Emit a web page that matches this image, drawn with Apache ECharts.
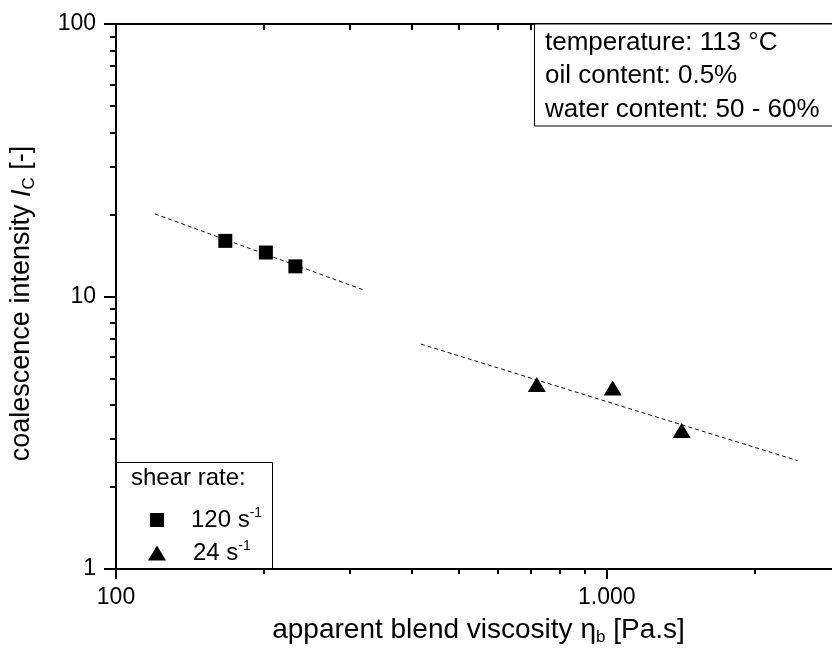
<!DOCTYPE html>
<html>
<head>
<meta charset="utf-8">
<script src="https://cdn.jsdelivr.net/npm/echarts@6/dist/echarts.min.js"></script>
<style>
html,body{margin:0;padding:0;background:#fff;}
#c{width:832px;height:654px;}
</style>
</head>
<body>
<div id="c"></div>
<script>
// ---- data ----
const xTickValues = [100, 1000];
const xTickLabels = ['100', '1.000'];
const xMinorTicks = [200, 300, 400, 500, 600, 700, 800, 900, 2000, 3000];
const yTickValues = [1, 10, 100];
const yTickLabels = ['1', '10', '100'];
const yMinorTicks = [2, 3, 4, 5, 6, 7, 8, 9, 20, 30, 40, 50, 60, 70, 80, 90];

const rate120Name = '120 s-1';
const rate120X = [167, 202, 232];
const rate120Y = [16.0, 14.5, 12.9];

const rate24Name = '24 s-1';
const rate24X = [720, 1028, 1421];
const rate24Y = [4.75, 4.62, 3.22];

const fit120X = [120, 318];
const fit120Y = [20.1, 10.6];
const fit24X = [418, 2445];
const fit24Y = [6.69, 2.50];

const infoLines = ['temperature: 113 °C', 'oil content: 0.5%', 'water content: 50 - 60%'];
const legendTitle = 'shear rate:';

// ---- helpers ----
const zip = (xs, ys) => xs.map((x, i) => [x, ys[i]]);
const pickLabel = (vals, labels) => v => {
  for (let i = 0; i < vals.length; i++) {
    if (Math.abs(Math.log10(v) - Math.log10(vals[i])) < 1e-6) return labels[i];
  }
  return '';
};
const FONT = 'Liberation Sans, Arial, sans-serif';
const axisLineStyle = { color: '#000', width: 2 };

function xAxisDef(position, ticks, len, inside, withLabels, showLine) {
  return {
    type: 'log', logBase: 10, min: 100, max: 3000, gridIndex: 0,
    position: position,
    axisLine: { show: showLine, onZero: false, lineStyle: axisLineStyle },
    axisTick: { show: true, inside: inside, length: len, customValues: ticks, lineStyle: { color: '#000', width: 2 } },
    axisLabel: withLabels ? {
      show: true, customValues: xTickValues, formatter: pickLabel(xTickValues, xTickLabels),
      color: '#000', fontSize: 23, fontFamily: FONT, margin: 17
    } : { show: false },
    splitLine: { show: false },
    minorTick: { show: false }
  };
}
function yAxisDef(position, ticks, len, inside, withLabels, showLine) {
  return {
    type: 'log', logBase: 10, min: 1, max: 100, gridIndex: 0,
    position: position,
    axisLine: { show: showLine, onZero: false, lineStyle: axisLineStyle },
    axisTick: { show: true, inside: inside, length: len, customValues: ticks, lineStyle: { color: '#000', width: 2 } },
    axisLabel: withLabels ? {
      show: true, customValues: yTickValues, formatter: pickLabel(yTickValues, yTickLabels),
      color: '#000', fontSize: 23, fontFamily: FONT, margin: 20
    } : { show: false },
    splitLine: { show: false },
    minorTick: { show: false }
  };
}

const xMain = xAxisDef('bottom', xTickValues, 10, false, true, true);
xMain.name = '{t|apparent blend viscosity η}{s|b}{t| [Pa.s]}';
xMain.nameLocation = 'middle';
xMain.nameGap = 45;
xMain.nameTextStyle = {
  color: '#000', fontFamily: FONT,
  rich: {
    t: { fontSize: 28, lineHeight: 32, color: '#000', fontFamily: FONT },
    s: { fontSize: 17, lineHeight: 4, verticalAlign: 'bottom', color: '#000', fontFamily: FONT }
  }
};

const yMain = yAxisDef('left', yTickValues, 12, false, true, true);
yMain.name = '{t|coalescence intensity }{i|I}{s|C}{t| [-]}';
yMain.nameLocation = 'middle';
yMain.nameGap = 78;
yMain.nameTextStyle = {
  color: '#000', fontFamily: FONT, padding: [0, 14, 0, 0],
  rich: {
    t: { fontSize: 27, lineHeight: 32, color: '#000', fontFamily: FONT },
    i: { fontSize: 27, lineHeight: 32, fontStyle: 'italic', color: '#000', fontFamily: FONT },
    s: { fontSize: 17, lineHeight: 6, verticalAlign: 'bottom', color: '#000', fontFamily: FONT }
  }
};

const legendRich = {
  g: { width: 22 },
  t: { fontSize: 24, lineHeight: 28, color: '#000', fontFamily: FONT },
  p: { fontSize: 14, lineHeight: 14, verticalAlign: 'top', color: '#000', fontFamily: FONT }
};
const legendFormatter = name => '{g|}{t|' + name.replace(' s-1', ' s') + '}{p|-1}';

const option = {
  backgroundColor: '#fff',
  animation: false,
  grid: { left: 116, top: 24, width: 725, height: 545, outerBoundsMode: 'none', containLabel: false },
  xAxis: [
    xMain,
    xAxisDef('bottom', xMinorTicks, 5, false, false, false),
    xAxisDef('top', xTickValues, 10, true, false, true),
    xAxisDef('top', xMinorTicks, 6, true, false, false)
  ],
  yAxis: [
    yMain,
    yAxisDef('left', yMinorTicks, 6, false, false, false)
  ],
  legend: [
    {
      data: [rate120Name], orient: 'vertical', left: 150, top: 506, padding: 0,
      itemWidth: 14, itemHeight: 14, symbolKeepAspect: false,
      formatter: legendFormatter, textStyle: { rich: legendRich, color: '#000' },
      selectedMode: false
    },
    {
      data: [rate24Name], orient: 'vertical', left: 148, top: 539, padding: 0,
      itemWidth: 18, itemHeight: 15, symbolKeepAspect: false,
      formatter: legendFormatter, textStyle: { rich: legendRich, color: '#000' },
      selectedMode: false
    }
  ],
  series: [
    {
      name: 'fit 120', type: 'line', xAxisIndex: 0, yAxisIndex: 0,
      data: zip(fit120X, fit120Y), showSymbol: false, symbol: 'none',
      lineStyle: { color: '#111', width: 1, type: [4, 3] }, z: 1
    },
    {
      name: 'fit 24', type: 'line', xAxisIndex: 0, yAxisIndex: 0,
      data: zip(fit24X, fit24Y), showSymbol: false, symbol: 'none',
      lineStyle: { color: '#111', width: 1, type: [4, 3] }, z: 1
    },
    {
      name: rate120Name, type: 'scatter', xAxisIndex: 0, yAxisIndex: 0,
      data: zip(rate120X, rate120Y), symbol: 'rect', symbolSize: 14,
      itemStyle: { color: '#000', opacity: 1 }, z: 3
    },
    {
      name: rate24Name, type: 'scatter', xAxisIndex: 0, yAxisIndex: 0,
      data: zip(rate24X, rate24Y), symbol: 'triangle', symbolSize: [18, 15],
      itemStyle: { color: '#000', opacity: 1 }, z: 3
    }
  ],
  graphic: [
    {
      type: 'rect', z: 100,
      shape: { x: 534.5, y: 24, width: 320, height: 102 },
      style: { fill: '#fff', stroke: '#000', lineWidth: 1 }
    },
    {
      type: 'text', z: 101, x: 545, y: 26,
      style: { text: infoLines.join('\n'), fill: '#000', fontSize: 26, lineHeight: 33.5, fontFamily: FONT, textVerticalAlign: 'top' }
    },
    {
      type: 'rect', z: 0,
      shape: { x: 115.5, y: 462.5, width: 157, height: 107 },
      style: { fill: '#fff', stroke: '#000', lineWidth: 1 }
    },
    {
      type: 'text', z: 101, x: 131, y: 478,
      style: { text: legendTitle, fill: '#000', fontSize: 24, fontFamily: FONT, textVerticalAlign: 'middle' }
    }
  ]
};

const chart = echarts.init(document.getElementById('c'), null, { renderer: 'canvas' });
chart.setOption(option);
</script>
</body>
</html>
